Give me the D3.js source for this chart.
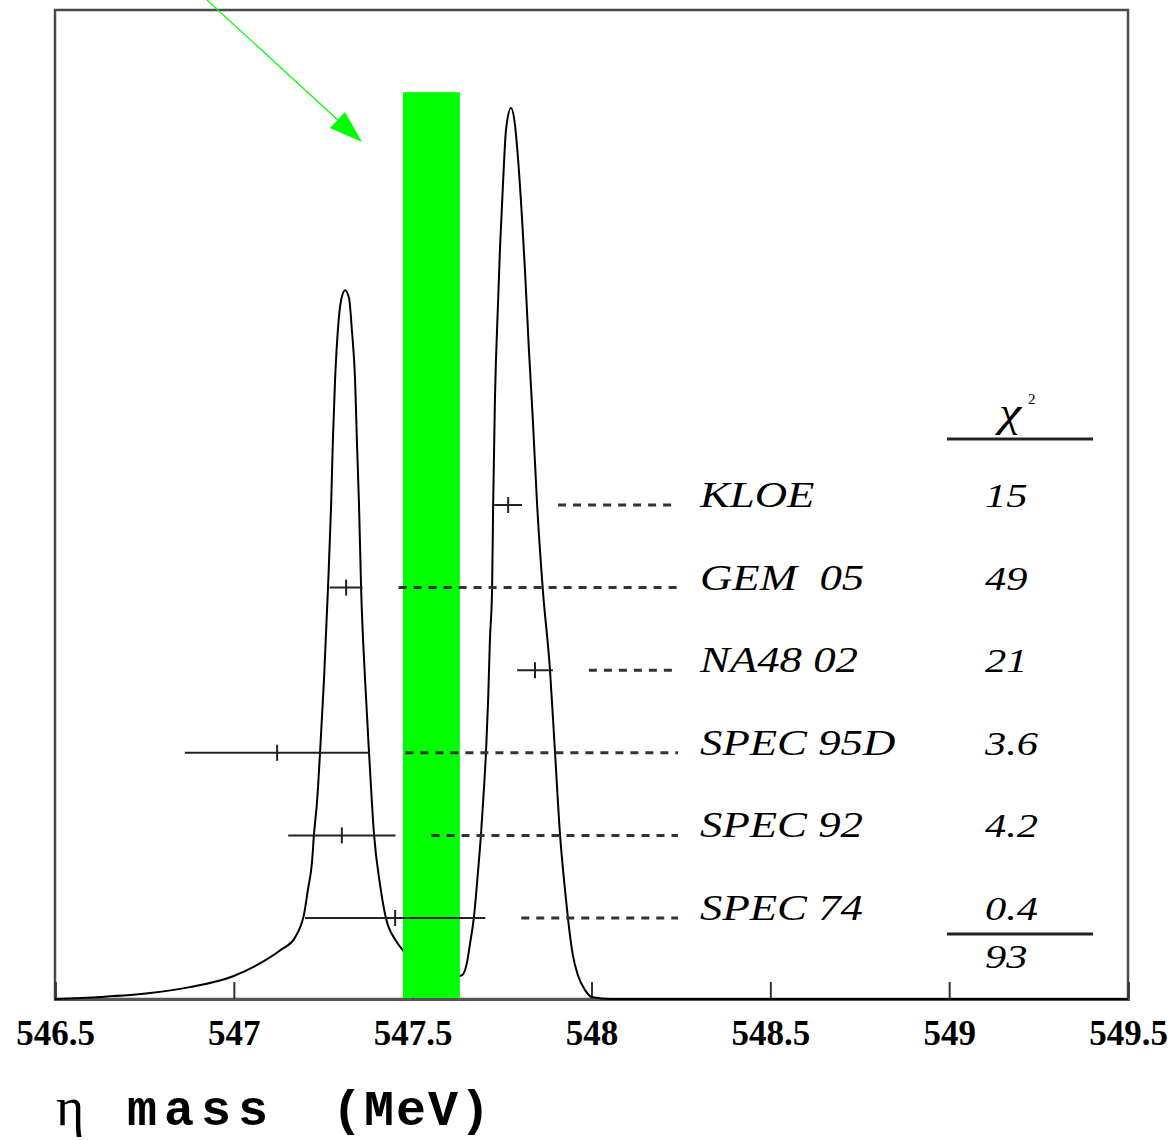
<!DOCTYPE html>
<html>
<head>
<meta charset="utf-8">
<script src="https://cdn.jsdelivr.net/npm/d3@7"></script>
<style>
  body { margin: 0; background: #fff; }
  svg { display: block; }
</style>
</head>
<body>
<svg id="chart" width="1172" height="1140"></svg>
<script>
(function () {
  // Ideogram curve (mass in MeV, relative height).
  let curveMass = [
    546.500, 546.626, 546.766, 546.877, 546.998, 547.073, 547.129, 547.171,
    547.185, 547.196, 547.207, 547.219, 547.224, 547.233, 547.241, 547.252,
    547.263, 547.272, 547.277, 547.283, 547.291, 547.300, 547.311, 547.322,
    547.330, 547.339, 547.344, 547.350, 547.356, 547.367, 547.378, 547.392,
    547.409, 547.425, 547.451, 547.473, 547.521, 547.576, 547.618, 547.638,
    547.652, 547.660, 547.671, 547.683, 547.691, 547.699, 547.705, 547.711,
    547.716, 547.722, 547.725, 547.730, 547.739, 547.744, 547.753, 547.761,
    547.775, 547.786, 547.795, 547.806, 547.814, 547.825, 547.836, 547.848,
    547.864, 547.884, 547.898, 547.912, 547.926, 547.934, 547.948, 547.962,
    547.982, 548.001, 548.052, 549.500
  ];
  let curveHeight = [
    0.0, 0.2, 0.6, 1.2, 2.3, 3.6, 4.9, 6.2,
    7.2, 8.5, 11.0, 14.0, 16.6, 20.1, 24.9, 32.2,
    41.3, 49.9, 56.5, 62.5, 67.6, 70.6, 71.6, 70.8,
    67.6, 62.5, 56.5, 49.9, 41.3, 32.2, 24.9, 16.6,
    11.5, 8.2, 6.0, 4.9, 3.6, 2.7, 2.2, 2.4,
    3.7, 5.5, 8.2, 13.0, 16.6, 21.1, 24.9, 30.2,
    36.3, 41.3, 49.9, 60.5, 70.6, 75.7, 82.7, 87.8,
    90.0, 88.3, 84.7, 78.7, 73.6, 65.6, 58.5, 49.9,
    41.3, 33.2, 24.9, 16.6, 11.0, 8.2, 4.4, 2.4,
    0.9, 0.2, 0.0, 0.0
  ];

  // Measurements.
  let experiments = ["KLOE", "GEM  05", "NA48 02", "SPEC 95D", "SPEC 92", "SPEC 74"];
  let centers = [547.767, 547.314, 547.842, 547.121, 547.302, 547.451];
  let errors = [0.039, 0.046, 0.050, 0.258, 0.150, 0.252];
  let chi2 = ["15", "49", "21", "3.6", "4.2", "0.4"];
  let chi2Total = "93";

  // Average band.
  let avgLow = 547.473;
  let avgHigh = 547.632;
  let avgTop = 91.6;

  let tickValues = [546.5, 547, 547.5, 548, 548.5, 549, 549.5];

  let svg = d3.select("#chart");

  let x = d3.scaleLinear().domain([546.5, 549.5]).range([55, 1128]);
  let y = d3.scaleLinear().domain([0, 100]).range([999, 9]);
  let row = d3.scalePoint().domain(experiments).range([505, 918]);

  // Frame.
  svg.append("rect")
    .attr("x", x(546.5))
    .attr("y", 10)
    .attr("width", x(549.5) - x(546.5))
    .attr("height", y(0) - 10)
    .attr("fill", "none")
    .attr("stroke", "#4a4a4a")
    .attr("stroke-width", 2.5);

  // Axis with upward ticks.
  let axis = svg.append("g")
    .attr("transform", `translate(0,${y(0)})`)
    .call(
      d3.axisBottom(x)
        .tickValues(tickValues)
        .tickSize(-17)
        .tickPadding(21)
        .tickFormat(d3.format(""))
    );
  axis.select(".domain").attr("stroke", "#555").attr("stroke-width", 3);
  axis.selectAll(".tick line").attr("stroke", "#333").attr("stroke-width", 2);
  axis.selectAll(".tick text")
    .attr("fill", "#000")
    .style("font-family", "'Liberation Serif', 'Times New Roman', serif")
    .style("font-weight", "bold")
    .style("font-size", "35px");

  // Curve.
  let line = d3.line()
    .x((d, i) => x(curveMass[i]))
    .y((d) => y(d))
    .curve(d3.curveMonotoneX);
  svg.append("path")
    .attr("d", line(curveHeight))
    .attr("fill", "none")
    .attr("stroke", "#000")
    .attr("stroke-width", 2);

  // Green average band.
  svg.append("rect")
    .attr("x", x(avgLow))
    .attr("y", y(avgTop))
    .attr("width", x(avgHigh) - x(avgLow))
    .attr("height", y(0) - y(avgTop) - 1)
    .attr("fill", "#00ff00");

  // Arrow annotation.
  svg.append("line")
    .attr("x1", 207).attr("y1", 0)
    .attr("x2", 340).attr("y2", 122)
    .attr("stroke", "#00ff00")
    .attr("stroke-width", 1.2);
  svg.append("path")
    .attr("d", "M362,142 L330,128 L345,112 Z")
    .attr("fill", "#00ff00");

  // Error bars and leader lines.
  let g = svg.selectAll(".meas").data(experiments).enter().append("g");

  g.append("line")
    .attr("x1", (d, i) => x(centers[i] - errors[i]))
    .attr("x2", (d, i) => x(centers[i] + errors[i]))
    .attr("y1", (d) => row(d))
    .attr("y2", (d) => row(d))
    .attr("stroke", "#222")
    .attr("stroke-width", 2);

  g.append("line")
    .attr("x1", (d, i) => x(centers[i]))
    .attr("x2", (d, i) => x(centers[i]))
    .attr("y1", (d) => row(d) - 8)
    .attr("y2", (d) => row(d) + 8)
    .attr("stroke", "#222")
    .attr("stroke-width", 2);

  g.append("line")
    .attr("x1", (d, i) => x(centers[i] + errors[i]) + 36)
    .attr("x2", 678)
    .attr("y1", (d) => row(d))
    .attr("y2", (d) => row(d))
    .attr("stroke", "#333")
    .attr("stroke-width", 3)
    .attr("stroke-dasharray", "8,7");

  let labelFont = "'Liberation Serif', 'Times New Roman', serif";

  g.append("text")
    .attr("transform", (d) => `translate(700,${row(d) + 2}) scale(1.28,1)`)
    .style("font-family", labelFont)
    .style("font-style", "italic")
    .style("font-size", "35px")
    .style("white-space", "pre")
    .text((d) => d);

  g.append("text")
    .attr("transform", (d) => `translate(985,${row(d) + 2}) scale(1.25,1)`)
    .style("font-family", labelFont)
    .style("font-style", "italic")
    .style("font-size", "34px")
    .text((d, i) => chi2[i]);

  // Chi-square header, rules and total.
  svg.append("text")
    .attr("transform", "translate(999,426) scale(1.2,1)")
    .style("font-family", labelFont)
    .style("font-style", "italic")
    .style("font-size", "42px")
    .text("χ");
  svg.append("text")
    .attr("x", 1028)
    .attr("y", 404)
    .style("font-family", labelFont)
    .style("font-size", "15px")
    .text("2");

  [439, 934].forEach((yy) => {
    svg.append("line")
      .attr("x1", 947).attr("x2", 1093)
      .attr("y1", yy).attr("y2", yy)
      .attr("stroke", "#222")
      .attr("stroke-width", 3);
  });

  svg.append("text")
    .attr("transform", "translate(985,968) scale(1.25,1)")
    .style("font-family", labelFont)
    .style("font-style", "italic")
    .style("font-size", "34px")
    .text(chi2Total);

  // Axis title.
  svg.append("text")
    .attr("x", 56)
    .attr("y", 1125)
    .style("font-family", labelFont)
    .style("font-size", "54px")
    .text("η");
  svg.append("text")
    .attr("x", 127)
    .attr("y", 1125)
    .style("font-family", "'Liberation Mono', 'Courier New', monospace")
    .style("font-weight", "bold")
    .style("font-size", "50px")
    .style("letter-spacing", "7px")
    .text("mass");
  svg.append("text")
    .attr("x", 332)
    .attr("y", 1125)
    .style("font-family", "'Liberation Mono', 'Courier New', monospace")
    .style("font-weight", "bold")
    .style("font-size", "50px")
    .style("letter-spacing", "2px")
    .text("(MeV)");
})();
</script>
</body>
</html>
